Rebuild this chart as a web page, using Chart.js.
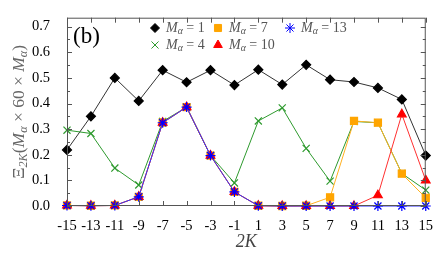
<!DOCTYPE html>
<html>
<head>
<meta charset="utf-8">
<script src="https://cdn.jsdelivr.net/npm/chart.js@4/dist/chart.umd.min.js"></script>
<style>
  html, body { margin: 0; padding: 0; background: #fff; }
  #wrap { width: 436px; height: 262px; }
</style>
</head>
<body>
<div id="wrap"><canvas id="chart"></canvas></div>
<script>
// x positions (2K) and tick labels
const k2 = [-15, -13, -11, -9, -7, -5, -3, -1, 1, 3, 5, 7, 9, 11, 13, 15];
const xTicks = k2;
const yTicks = [0, 0.1, 0.2, 0.3, 0.4, 0.5, 0.6, 0.7];

// Xi_2K values, one list per M_alpha
const m1  = [0.219, 0.35, 0.50, 0.41, 0.53, 0.483, 0.53, 0.472, 0.532, 0.474, 0.551, 0.493, 0.484, 0.461, 0.416, 0.197];
const m4  = [0.296, 0.283, 0.148, 0.082, 0.33, 0.386, 0.197, 0.09, 0.332, 0.383, 0.225, 0.097, 0.33, 0.325, 0.127, 0.062];
const m7  = [0.002, 0.001, 0.002, 0.036, 0.325, 0.386, 0.197, 0.055, 0.001, 0.0, 0.001, 0.034, 0.332, 0.325, 0.126, 0.032];
const m10 = [0.002, 0.001, 0.002, 0.036, 0.325, 0.386, 0.197, 0.055, 0.001, 0.0, 0.0, 0.0, 0.0, 0.042, 0.358, 0.1];
const m13 = [0.002, 0.001, 0.002, 0.036, 0.325, 0.386, 0.197, 0.055, 0.001, 0.0, 0.0, 0.0, 0.0, 0.0, 0.0, 0.0];

const SERIF = '"Liberation Serif", "DejaVu Serif", serif';

function pts(vals) {
    return vals.map((v, i) => ({ x: k2[i], y: v }));
}

// draws text made of pieces, some italic / subscript
function richWidth(ctx, parts, size) {
    let w = 0;
    parts.forEach(p => {
        const s = p.sub ? size * 0.7 : size;
        ctx.font = (p.it ? 'italic ' : '') + s + 'px ' + SERIF;
        w += ctx.measureText(p.t).width;
    });
    return w;
}
function drawRich(ctx, parts, x, y, size, color) {
    ctx.fillStyle = color;
    ctx.textBaseline = 'middle';
    ctx.textAlign = 'left';
    parts.forEach(p => {
        const s = p.sub ? size * 0.7 : size;
        ctx.font = (p.it ? 'italic ' : '') + s + 'px ' + SERIF;
        ctx.fillText(p.t, x, p.sub ? y + size * 0.28 : y);
        x += ctx.measureText(p.t).width;
    });
}
function mLabel(n) {
    return [{ t: 'M', it: true }, { t: 'α', it: true, sub: true }, { t: ' = ' + n }];
}

const series = [
    { label: '1',  data: m1,  color: '#000000', line: '#333333', style: 'rectRot', r: 4.5, order: 4 },
    { label: '4',  data: m4,  color: '#2e9a2e', line: '#2e9a2e', style: 'crossRot', r: 5, order: 3 },
    { label: '7',  data: m7,  color: '#ffa500', line: '#ffb020', style: 'rect', r: 5, order: 2 },
    { label: '10', data: m10, color: '#ff0000', line: '#ff3030', style: 'triangle', r: 5, order: 1 },
    { label: '13', data: m13, color: '#0000ff', line: '#3333ff', style: 'star', r: 5, order: 0 }
];

function drawMarker(ctx, s, x, y) {
    Chart.helpers.drawPoint(ctx, {
        pointStyle: s.style, radius: s.r, rotation: 0, borderWidth: 1.2
    }, x, y);
}

const framePlugin = {
    id: 'frame',
    afterDatasetsDraw(chart) {
        const ctx = chart.ctx;
        const a = chart.chartArea;
        const xs = chart.scales.x, ys = chart.scales.y;
        ctx.save();
        ctx.strokeStyle = '#555';
        ctx.lineWidth = 1;
        ctx.strokeRect(a.left + 0.5, a.top + 0.5, a.right - a.left - 1, a.bottom - a.top - 1);
        ctx.beginPath();
        xTicks.forEach(v => {
            const px = Math.round(xs.getPixelForValue(v)) + 0.5;
            ctx.moveTo(px, a.bottom); ctx.lineTo(px, a.bottom - 5);
            ctx.moveTo(px, a.top); ctx.lineTo(px, a.top + 5);
        });
        for (let v = 0; v <= 0.7001; v += 0.05) {
            const py = Math.round(ys.getPixelForValue(v)) + 0.5;
            const len = (Math.round(v * 100) % 10 === 0) ? 5 : 3;
            ctx.moveTo(a.left, py); ctx.lineTo(a.left + len, py);
            ctx.moveTo(a.right, py); ctx.lineTo(a.right - len, py);
        }
        ctx.stroke();

        // panel tag
        ctx.fillStyle = '#000';
        ctx.font = '23px ' + SERIF;
        ctx.textBaseline = 'middle';
        ctx.textAlign = 'left';
        ctx.fillText('(b)', a.left + 6, 37);

        // legend, two rows
        const rows = [[0, 2, 4], [1, 3]];
        const cols = [155, 218, 290];
        const rowY = [28, 45];
        rows.forEach((r, ri) => {
            r.forEach((si, ci) => {
                const s = series[si];
                ctx.fillStyle = s.color;
                ctx.strokeStyle = s.color;
                drawMarker(ctx, s, cols[ci], rowY[ri]);
                drawRich(ctx, mLabel(s.label), cols[ci] + 11, rowY[ri], 14, '#555');
            });
        });

        // axis titles
        const xt = [{ t: '2', it: true }, { t: 'K', it: true }];
        const xw = richWidth(ctx, xt, 18);
        drawRich(ctx, xt, (a.left + a.right) / 2 - xw / 2, 242, 18, '#444');

        const yt = [{ t: 'Ξ' }, { t: '2K', it: true, sub: true }, { t: '(' },
            { t: 'M', it: true }, { t: 'α', it: true, sub: true }, { t: ' × 60 × ' },
            { t: 'M', it: true }, { t: 'α', it: true, sub: true }, { t: ')' }];
        const yw = richWidth(ctx, yt, 17.5);
        ctx.translate(19, (a.top + a.bottom) / 2);
        ctx.rotate(-Math.PI / 2);
        drawRich(ctx, yt, -yw / 2, 0, 17.5, '#666');
        ctx.restore();
    }
};

new Chart(document.getElementById('chart'), {
    type: 'line',
    data: {
        datasets: series.map(s => ({
            label: 'M = ' + s.label,
            data: pts(s.data),
            borderColor: s.line,
            backgroundColor: s.color,
            pointBorderColor: s.color,
            pointBackgroundColor: s.color,
            pointStyle: s.style,
            pointRadius: s.r,
            pointBorderWidth: 1.2,
            borderWidth: 1,
            tension: 0,
            clip: false,
            order: s.order
        }))
    },
    options: {
        responsive: true,
        maintainAspectRatio: false,
        animation: false,
        layout: { padding: { top: 16, right: 8, left: 0, bottom: 0 } },
        plugins: {
            legend: { display: false },
            tooltip: { enabled: false }
        },
        scales: {
            x: {
                type: 'linear',
                min: -15, max: 15,
                afterBuildTicks: (ax) => { ax.ticks = xTicks.map(v => ({ value: v })); },
                afterFit: (ax) => { ax.height = 56; },
                grid: { display: false },
                border: { display: false },
                ticks: {
                    padding: 3,
                    color: '#000',
                    font: { family: SERIF, size: 14.5 },
                    maxRotation: 0,
                    autoSkip: false,
                    callback: (v) => String(v)
                }
            },
            y: {
                min: 0, max: 0.735,
                afterBuildTicks: (ax) => { ax.ticks = yTicks.map(v => ({ value: v })); },
                afterFit: (ax) => { ax.width = 67; },
                grid: { display: false },
                border: { display: false },
                ticks: {
                    padding: 9,
                    color: '#000',
                    font: { family: SERIF, size: 14.5 },
                    callback: (v) => v.toFixed(1)
                }
            }
        }
    },
    plugins: [framePlugin]
});
</script>
</body>
</html>
